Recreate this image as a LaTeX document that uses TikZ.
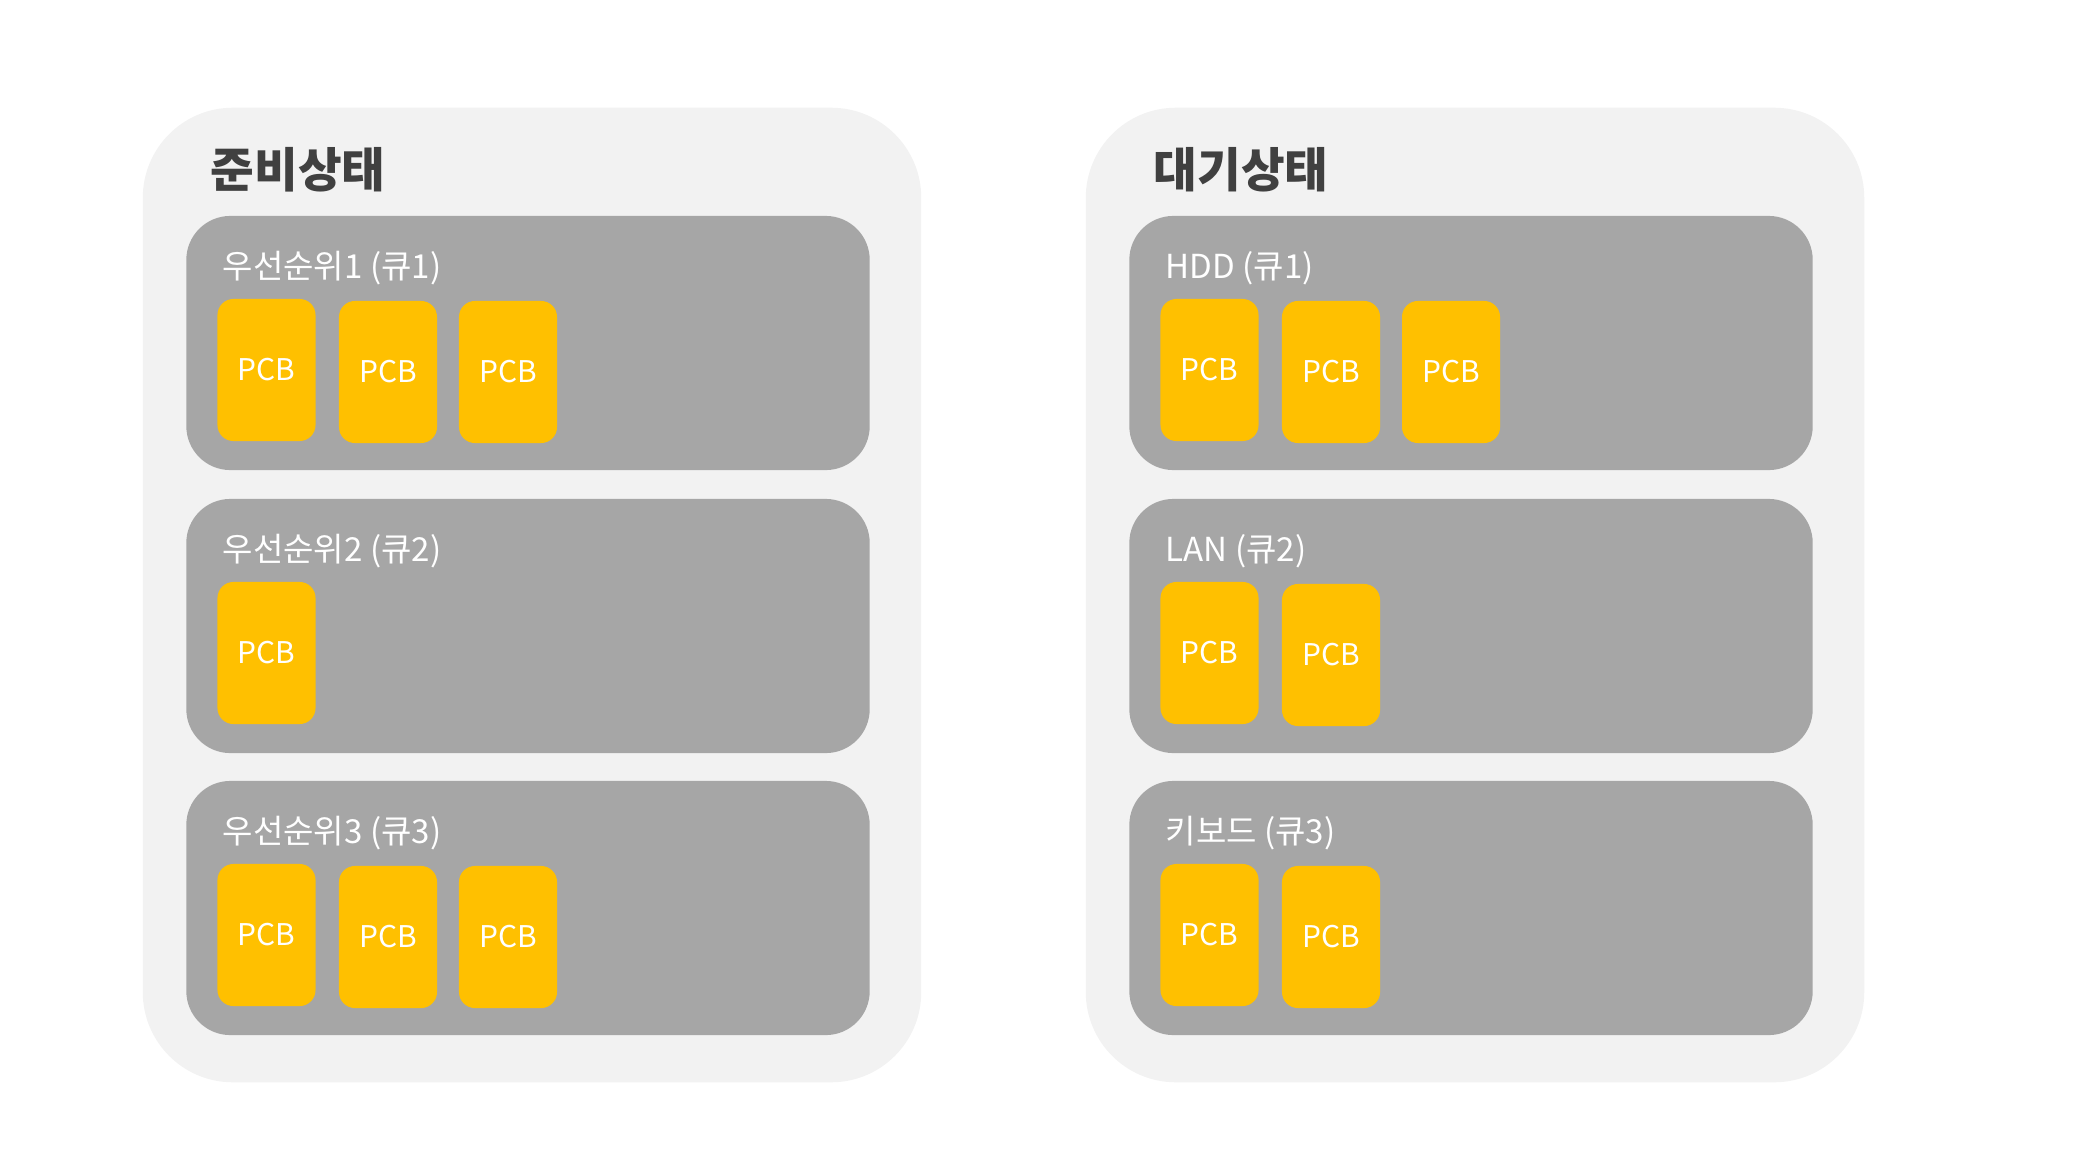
\documentclass[tikz,border=0pt]{standalone}
\usepackage{fontspec}
\setmainfont{Noto Sans CJK KR}
\usetikzlibrary{positioning}
\definecolor{panelgray}{RGB}{242,242,242}
\definecolor{queuegray}{RGB}{166,166,166}
\definecolor{pcbyellow}{RGB}{255,192,0}
\definecolor{titlegray}{RGB}{64,64,64}

\begin{document}
\begin{tikzpicture}[x=0.01cm, y=-0.01cm,
	statebox/.style={rectangle, rounded corners=0.9cm, fill=panelgray, minimum width=7.78cm, minimum height=9.74cm, inner sep=0},
	queuebox/.style={rectangle, rounded corners=0.44cm, fill=queuegray, minimum width=6.83cm, minimum height=2.54cm, inner sep=0},
	pcb/.style={rectangle, rounded corners=0.16cm, fill=pcbyellow, minimum width=0.98cm, minimum height=1.42cm, inner sep=0, text=white, font=\fontsize{8.5pt}{10pt}\selectfont},
	statetitle/.style={anchor=base west, inner sep=0, text=titlegray, font=\fontsize{13.5pt}{15pt}\selectfont\bfseries},
	queuelabel/.style={anchor=base west, inner sep=0, text=white, font=\fontsize{9.4pt}{11pt}\selectfont}]
	\useasboundingbox (0,0) rectangle (2080,1170);

	% Ready state
	\node[statebox] (ready) at (532,595) {};
	\node[statetitle] (readytitle) at (210,187) {준비상태};
	\node[queuebox] (rq1) at (528,343) {};
	\node[queuebox] (rq2) at (528,626) {};
	\node[queuebox] (rq3) at (528,908) {};
	\node[queuelabel] (rq1label) at (222,278) {우선순위1 (큐1)};
	\node[queuelabel] (rq2label) at (222,561) {우선순위2 (큐2)};
	\node[queuelabel] (rq3label) at (222,843) {우선순위3 (큐3)};
	\node[pcb] (rp11) at (266.5,370) {PCB};
	\node[pcb] (rp12) at (388,372) {PCB};
	\node[pcb] (rp13) at (508,372) {PCB};
	\node[pcb] (rp21) at (266.5,653) {PCB};
	\node[pcb] (rp31) at (266.5,935) {PCB};
	\node[pcb] (rp32) at (388,937) {PCB};
	\node[pcb] (rp33) at (508,937) {PCB};

	% Waiting state
	\node[statebox] (wait) at (1475,595) {};
	\node[statetitle] (waittitle) at (1153,187) {대기상태};
	\node[queuebox] (wq1) at (1471,343) {};
	\node[queuebox] (wq2) at (1471,626) {};
	\node[queuebox] (wq3) at (1471,908) {};
	\node[queuelabel] (wq1label) at (1165,278) {HDD (큐1)};
	\node[queuelabel] (wq2label) at (1165,561) {LAN (큐2)};
	\node[queuelabel] (wq3label) at (1165,843) {키보드 (큐3)};
	\node[pcb] (wp11) at (1209.5,370) {PCB};
	\node[pcb] (wp12) at (1331,372) {PCB};
	\node[pcb] (wp13) at (1451,372) {PCB};
	\node[pcb] (wp21) at (1209.5,653) {PCB};
	\node[pcb] (wp22) at (1331,655) {PCB};
	\node[pcb] (wp31) at (1209.5,935) {PCB};
	\node[pcb] (wp32) at (1331,937) {PCB};
\end{tikzpicture}
\end{document}
